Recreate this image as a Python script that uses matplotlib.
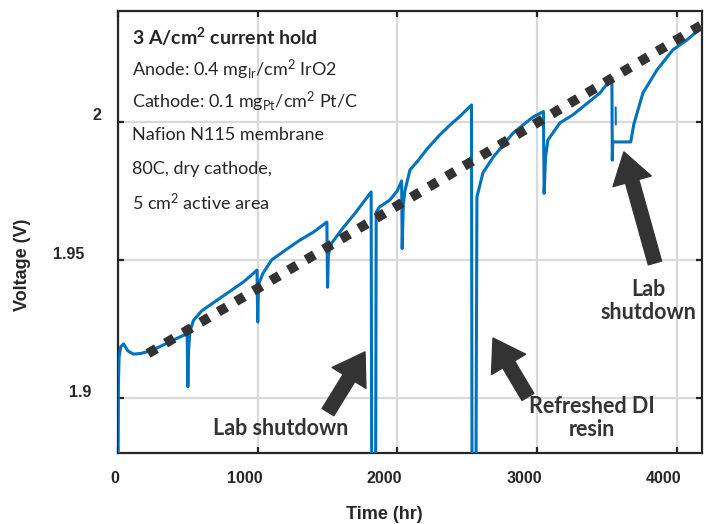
import numpy as np
import matplotlib.pyplot as plt
import matplotlib.transforms as mtransforms

plt.rcParams['mathtext.fontset'] = 'custom'
plt.rcParams['mathtext.rm'] = 'Lato'
plt.rcParams['mathtext.it'] = 'Lato:italic'
plt.rcParams['mathtext.bf'] = 'Lato:bold'

# 电压数据
time_hr = [0, 3, 8, 20, 40, 70, 110, 160, 220, 300, 400, 495,
           500, 505, 515, 540, 600, 700, 800, 900, 995,
           1000, 1006, 1037, 1100, 1200, 1300, 1400, 1495,
           1500, 1506, 1530, 1603, 1700, 1812,
           1816, 1844, 1848, 1870, 1946, 2000, 2030,
           2034, 2042, 2054, 2090, 2150, 2211, 2300, 2376, 2450, 2530,
           2534, 2562, 2569, 2612, 2684, 2827, 2970, 3045,
           3050, 3060, 3077, 3163, 3256, 3449, 3535,
           3538, 3541, 3670, 3692, 3757, 3857, 3971, 4072, 4180]
voltage = [1.87, 1.905, 1.915, 1.9185, 1.9195, 1.917, 1.9158, 1.916, 1.9168, 1.9185, 1.921, 1.9232,
           1.904, 1.917, 1.924, 1.928, 1.9315, 1.935, 1.9385, 1.942, 1.9462,
           1.9274, 1.941, 1.945, 1.9499, 1.9535, 1.957, 1.960, 1.9636,
           1.940, 1.952, 1.956, 1.961, 1.967, 1.9745,
           1.87, 1.87, 1.967, 1.969, 1.9716, 1.975, 1.9785,
           1.954, 1.970, 1.975, 1.9825, 1.986, 1.990, 1.995, 1.9987, 2.002, 2.006,
           1.87, 1.87, 1.9727, 1.9814, 1.987, 1.9958, 2.0016, 2.0036,
           1.974, 1.987, 1.9933, 1.9995, 2.0024, 2.0103, 2.0158,
           1.986, 1.9926, 1.9926, 1.999, 2.0103, 2.0186, 2.0259, 2.0295, 2.0342]
notch_t = [3562, 3563]
notch_v = [2.005, 1.999]

# 趋势线
trend_t = [215, 4180]
trend_v = [1.916, 2.035]

xticks = [0, 1000, 2000, 3000, 4000]
yticks = [1.9, 1.95, 2.0]
ytick_labels = ['1.9', '1.95', '2']

fig = plt.figure(figsize=(7.06, 5.24), dpi=100)
ax = fig.add_axes([118 / 706, 71 / 524, 584 / 706, 442 / 524])

blue = '#0072BD'
dark = '#333333'
ax.plot(time_hr, voltage, color=blue, lw=2.2, zorder=3)
ax.plot(notch_t, notch_v, color=blue, lw=1.5, zorder=3)
ax.plot(trend_t, trend_v, color=dark, lw=7, linestyle=(0, (1, 1.1)),
        dash_capstyle='butt', zorder=4)

ax.set_xlim(0, 4180)
ax.set_ylim(1.88, 2.04)
ax.set_xticks(xticks)
ax.set_yticks(yticks)
ax.set_yticklabels(ytick_labels)
ax.grid(True, color='#d9d9d9', lw=1.6)
ax.set_axisbelow(True)

for s in ax.spines.values():
    s.set_linewidth(1.6)
    s.set_color('#262626')
ax.tick_params(direction='in', top=True, right=True, length=4, width=1.6,
               color='#262626', labelsize=11.5)
ax.tick_params(axis='x', pad=13)
ax.tick_params(axis='y', pad=12)
for lab in ax.get_xticklabels() + ax.get_yticklabels():
    lab.set_fontfamily('Liberation Sans')
    lab.set_fontweight('bold')
    lab.set_color('#262626')


def shift(lab, dx, dy):
    # 像素偏移
    lab.set_transform(lab.get_transform() +
                      mtransforms.ScaledTranslation(dx / 100, dy / 100, fig.dpi_scale_trans))


y_shift = {'2': (0, 7), '1.95': (-17, 7), '1.9': (-10, 7)}
for lab in ax.get_yticklabels():
    shift(lab, *y_shift.get(lab.get_text(), (0, 0)))
for lab in ax.get_xticklabels():
    shift(lab, -3 if lab.get_text() == '0' else -13, 0)

ax.set_xlabel('Time (hr)', fontfamily='Liberation Sans', fontweight='bold',
              fontsize=13, color='#262626')
ax.set_ylabel('Voltage (V)', fontfamily='Liberation Sans', fontweight='bold',
              fontsize=13, color='#262626')
ax.xaxis.set_label_coords((384 - 118) / 584, -(506 - 453) / 442)
ax.yaxis.set_label_coords(-(118 - 31) / 584, 0.425)

# 左上角说明文字
info = [r'3 A/cm$^{\mathbf{2}}$ current hold',
        r'Anode: 0.4 mg$_{\mathrm{Ir}}$/cm$^{2}$ IrO2',
        r'Cathode: 0.1 mg$_{\mathrm{Pt}}$/cm$^{2}$ Pt/C',
        'Nafion N115 membrane',
        '80C, dry cathode,',
        r'5 cm$^{2}$ active area']
ys = [37, 70, 102, 135, 169, 202]
for i, (s, yp) in enumerate(zip(info, ys)):
    ax.text(132, 524 - yp, s, transform=None,
            fontsize=14 if i == 0 else 13, fontfamily='Lato',
            fontweight='bold' if i == 0 else 'normal', color='#262626',
            va='center', ha='left')

# 标注箭头
arrow = dict(arrowstyle='simple,head_length=1.0,head_width=1.3,tail_width=0.45',
             color=dark, shrinkA=0, shrinkB=0, mutation_scale=22)
ax.annotate('', xy=(1768, 1.9166), xytext=(1503, 1.8948), arrowprops=arrow)
ax.annotate('', xy=(2684, 1.9216), xytext=(2934, 1.9003), arrowprops=arrow)
ax.annotate('', xy=(3621, 1.989), xytext=(3843, 1.9488), arrowprops=arrow)

lab_font = dict(fontsize=15.5, fontfamily='Lato', fontweight='bold', color=dark,
                ha='center', va='center', linespacing=1.1)
ax.text(1166, 1.889, 'Lab shutdown', **lab_font)
ax.text(3392, 1.8927, 'Refreshed DI\nresin', **lab_font)
ax.text(3793, 1.935, 'Lab\nshutdown', **lab_font)

fig.savefig('out.png', dpi=100)
